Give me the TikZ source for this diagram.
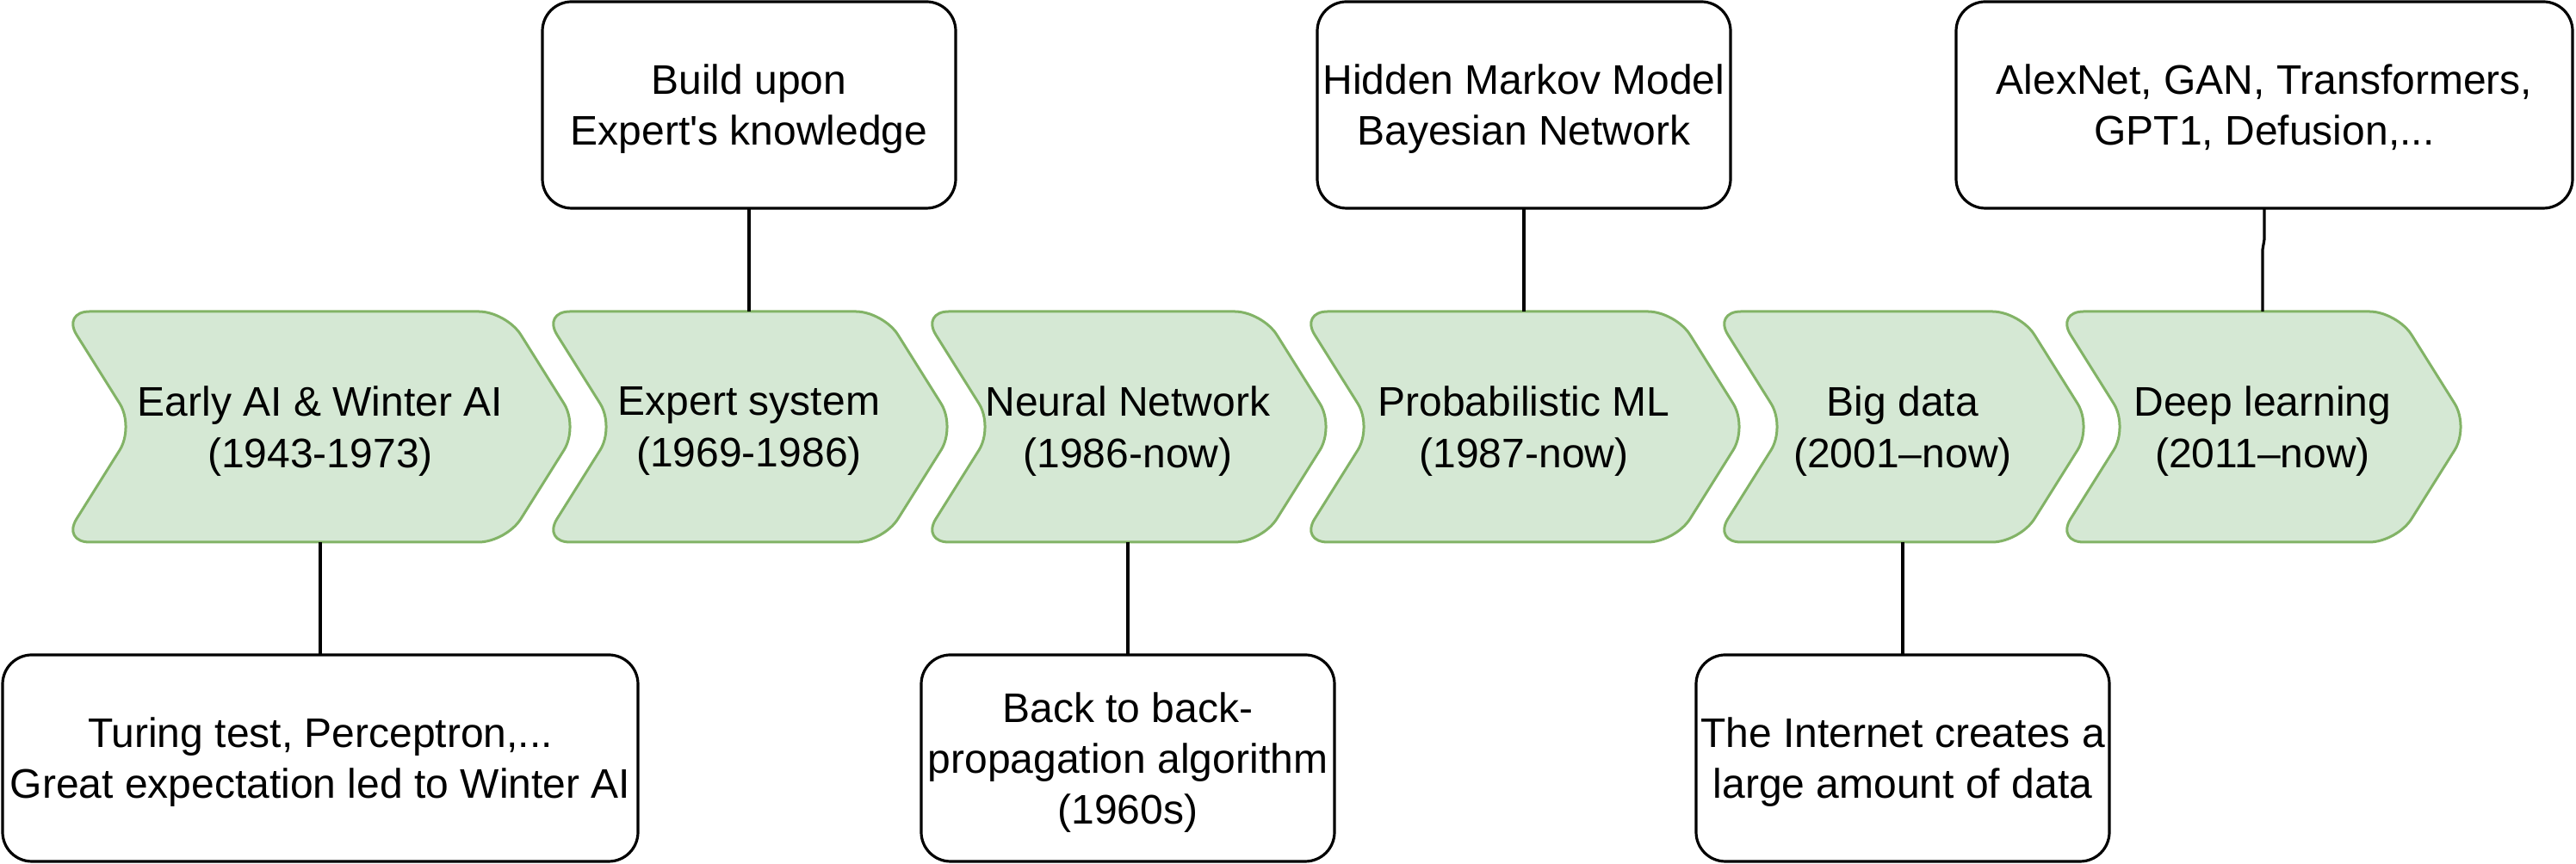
\documentclass[tikz,border=0pt]{standalone}
\usepackage{fontspec}
\setmainfont{Liberation Sans}
\usetikzlibrary{backgrounds}
\definecolor{erafill}{HTML}{D5E8D4}
\definecolor{eraline}{HTML}{82B366}

\begin{document}
\begin{tikzpicture}
  [x=1pt,y=1pt,
   every node/.style={align=center,font=\fontsize{12}{14.8}\selectfont,inner sep=0pt,outer sep=0pt,
     text depth=-0.7pt},
   era/.style={minimum height=67pt,font=\fontsize{12}{15}\selectfont,text depth=-1.1pt},
   note/.style={draw,rounded corners=8.5pt,line width=0.8pt,minimum height=60pt},
   link/.style={line width=0.8pt}]
  \useasboundingbox (0,0) rectangle (748,251);

  \node[era,minimum width=150pt] (c1) at (93,127) {Early AI \& Winter AI\\(1943-1973)};
  \node[era,minimum width=120pt] (c2) at (217.5,127) {Expert system\\(1969-1986)};
  \node[era,minimum width=120pt] (c3) at (327.5,127) {Neural Network\\(1986-now)};
  \node[era,minimum width=130pt] (c4) at (442.5,127) {Probabilistic ML\\(1987-now)};
  \node[era,minimum width=110pt] (c5) at (552.5,127) {Big data\\(2001--now)};
  \node[era,minimum width=120pt] (c6) at (657,127) {Deep learning\\(2011--now)};

  \node[note,minimum width=120pt] (b1) at (217.5,220.5) {Build upon\\Expert\textquotesingle s knowledge};
  \node[note,minimum width=120pt] (b2) at (442.5,220.5) {Hidden Markov Model\\Bayesian Network};
  \node[note,minimum width=179pt] (b3) at (657.5,220.5) {AlexNet, GAN, Transformers,\\GPT1, Defusion,...};

  \node[note,minimum width=184.5pt] (d1) at (93,30.75) {Turing test, Perceptron,...\\Great expectation led to Winter AI};
  \node[note,minimum width=120pt] (d2) at (327.5,30.75) {Back to back-\\propagation algorithm\\(1960s)};
  \node[note,minimum width=120pt] (d3) at (552.5,30.75) {The Internet creates a\\large amount of data};

  \begin{scope}[on background layer]
    \foreach \n in {c1,c2,c3,c4,c5,c6}
      \draw[fill=erafill,draw=eraline,line width=0.75pt,rounded corners=8pt]
        (\n.north west) -- ([xshift=-21pt]\n.north east) -- (\n.east)
        -- ([xshift=-21pt]\n.south east) -- (\n.south west) -- ([xshift=21pt]\n.west) -- cycle;
  \end{scope}

  \foreach \from/\to in {b1/c2,b2/c4,c1/d1,c3/d2,c5/d3}
    \draw[link] (\from) -- (\to);
  \draw[link] (b3.south) -- ++(0,-9) .. controls +(0,-1.5) and +(0,1.5) .. ([yshift=18pt]c6.north) -- (c6.north);
\end{tikzpicture}
\end{document}
